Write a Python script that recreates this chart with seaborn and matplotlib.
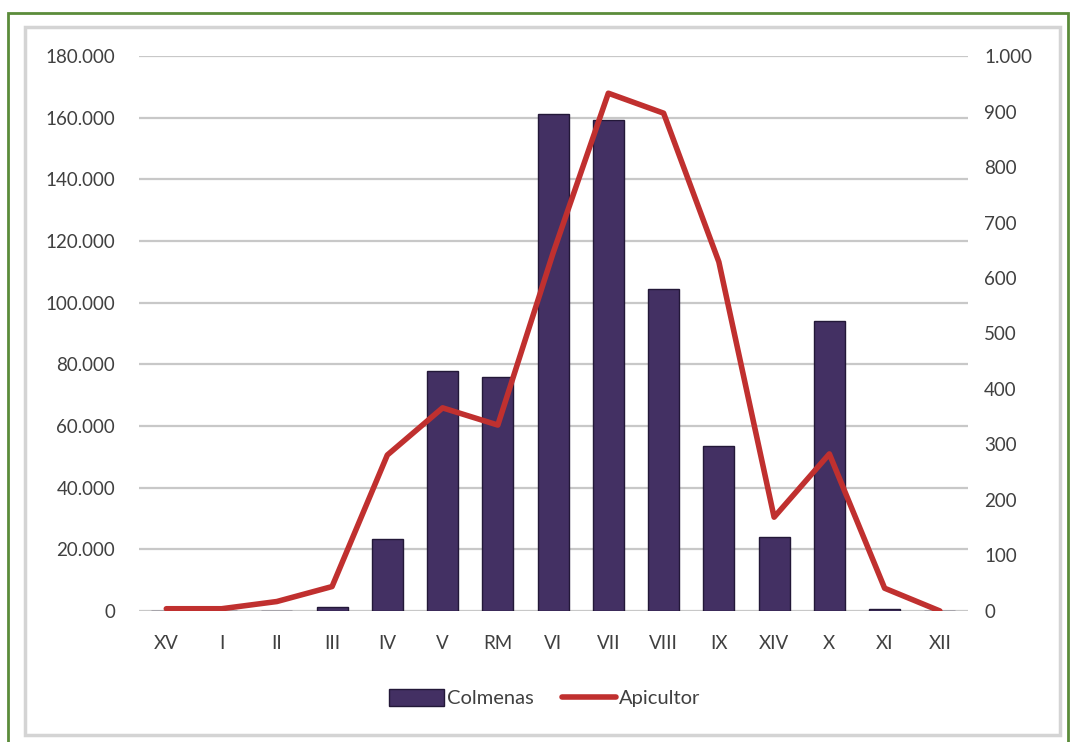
import matplotlib.pyplot as plt
import seaborn as sns
import pandas as pd
from matplotlib.ticker import FuncFormatter
from matplotlib.patches import Rectangle

# datos
regiones = ["XV", "I", "II", "III", "IV", "V", "RM", "VI", "VII", "VIII", "IX", "XIV", "X", "XI", "XII"]
colmenas = [0, 0, 0, 1200, 23200, 77800, 75900, 161200, 159300, 104400, 53500, 24000, 94100, 600, 0]
apicultor = [4, 4, 17, 44, 281, 366, 335, 645, 933, 897, 629, 169, 283, 41, 0]

df = pd.DataFrame({"region": regiones, "Colmenas": colmenas, "Apicultor": apicultor})

sns.set_theme(style="white")
plt.rcParams["font.family"] = ["Lato", "DejaVu Sans"]

bar_color = "#433063"
line_color = "#c0302f"
txt_color = "#404040"

fig = plt.figure(figsize=(10.75, 7.42), dpi=100)
ax = fig.add_axes([0.129, 0.1766, 0.771, 0.7479])

sns.barplot(data=df, x="region", y="Colmenas", color=bar_color, width=0.56,
            edgecolor="#231838", linewidth=1, saturation=1, ax=ax, label="Colmenas")
ax.set_ylim(0, 180000)
ax.set_xlim(-0.5, 14.5)
ax.set_yticks(range(0, 180001, 20000))
ax.yaxis.set_major_formatter(FuncFormatter(lambda v, p: f"{int(v):,}".replace(",", ".")))
ax.grid(axis="y", color="#c8c8c8", linewidth=1.6)
ax.set_axisbelow(True)
ax.set_xlabel("")
ax.set_ylabel("")

ax2 = ax.twinx()
sns.lineplot(data=df, x="region", y="Apicultor", color=line_color, linewidth=4,
             sort=False, ax=ax2, label="Apicultor")
ax2.set_ylim(0, 1000)
ax2.set_yticks(range(0, 1001, 100))
ax2.yaxis.set_major_formatter(FuncFormatter(lambda v, p: f"{int(v):,}".replace(",", ".")))
ax2.set_ylabel("")
ax2.grid(False)

for a in (ax, ax2):
    for s in a.spines.values():
        s.set_visible(False)
    a.tick_params(length=0, labelsize=13.5, colors=txt_color)
ax.tick_params(axis="y", pad=17)
ax.tick_params(axis="x", pad=17)
ax2.tick_params(axis="y", pad=12)

# leyenda combinada abajo
h1, l1 = ax.get_legend_handles_labels()
h2, l2 = ax2.get_legend_handles_labels()
if ax2.get_legend():
    ax2.get_legend().remove()
if ax.get_legend():
    ax.get_legend().remove()
fig.legend(h1 + h2, l1 + l2, loc="center", bbox_to_anchor=(0.507, 0.059), ncol=2,
           frameon=False, fontsize=14.5, handlelength=2.7, handleheight=0.9,
           handletextpad=0.15, columnspacing=1.4, labelcolor=txt_color)

# marcos
fig.patches.append(Rectangle((25 / 1075, 7 / 742), 1035 / 1075, 708 / 742, transform=fig.transFigure,
                             fill=False, edgecolor="#d4d4d4", linewidth=2.5))
fig.patches.append(Rectangle((8 / 1075, -5 / 742), 1060 / 1075, 734 / 742, transform=fig.transFigure,
                             fill=False, edgecolor="#5b8c3a", linewidth=2))

fig.savefig("out.png", dpi=100)
